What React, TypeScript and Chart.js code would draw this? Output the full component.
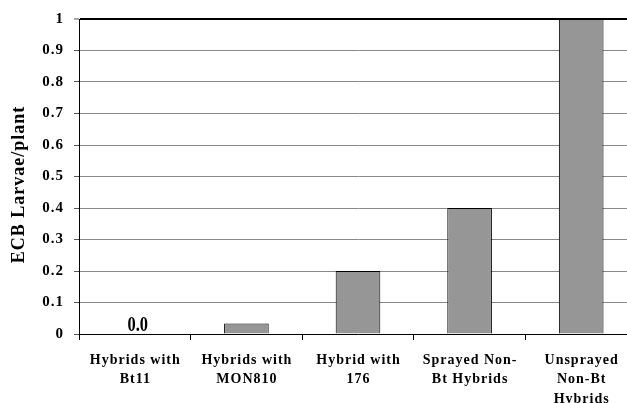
import { useEffect, useRef } from "react";
import { Chart, registerables } from "chart.js";

Chart.register(...registerables);

const FONT = "'Liberation Serif', 'Times New Roman', Times, serif";

const categories: string[][] = [
  ["Hybrids with", "Bt11"],
  ["Hybrids with", "MON810"],
  ["Hybrid with", "176"],
  ["Sprayed Non-", "Bt Hybrids"],
  ["Unsprayed", "Non-Bt", "Hybrids"],
];
const larvaePerPlant = [0, 0.033, 0.2, 0.4, 1.0];
const yTitle = "ECB Larvae/plant";
const yMin = 0;
const yMax = 1;
const yStep = 0.1;

const textPlugin = {
  id: "customText",
  beforeDraw(chart: any) {
    chart.ctx.letterSpacing = "1px";
  },
  afterDraw(chart: any) {
    const ctx = chart.ctx as CanvasRenderingContext2D;
    const xs = chart.scales.x;
    const ys = chart.scales.y;
    ctx.save();
    ctx.fillStyle = "#000";
    ctx.letterSpacing = "1px";
    ctx.font = `bold 14px ${FONT}`;
    ctx.textAlign = "center";
    ctx.textBaseline = "alphabetic";
    categories.forEach((lines, i) => {
      const cx = xs.getPixelForValue(i);
      lines.forEach((t, j) => {
        ctx.fillText(t, cx + 0.5, xs.top + 29.5 + j * 19.5);
      });
    });
    // y axis title
    ctx.save();
    ctx.translate(24, (ys.top + ys.bottom) / 2 + 8);
    ctx.rotate(-Math.PI / 2);
    ctx.font = `bold 18px ${FONT}`;
    ctx.textAlign = "center";
    ctx.textBaseline = "alphabetic";
    ctx.fillText(yTitle, 0, 0);
    ctx.restore();
    // value labels for zero bars
    const meta = chart.getDatasetMeta(0);
    meta.data.forEach((bar: any, i: number) => {
      const v = larvaePerPlant[i];
      if (v === 0) {
        ctx.save();
        ctx.letterSpacing = "0px";
        ctx.translate(bar.x + 3, ys.getPixelForValue(0) - 3.5);
        ctx.scale(0.82, 1);
        ctx.font = `bold 20px ${FONT}`;
        ctx.textAlign = "center";
        ctx.fillText(v.toFixed(1), 0, 0);
        ctx.restore();
      }
    });
    ctx.restore();
    ctx.letterSpacing = "0px";
  },
};

export default function App() {
  const ref = useRef<HTMLCanvasElement>(null);
  useEffect(() => {
    if (!ref.current) return;
    const chart = new Chart(ref.current, {
      type: "bar",
      data: {
        labels: categories.map((c) => c.join(" ")),
        datasets: [
          {
            data: larvaePerPlant,
            backgroundColor: "#969696",
            borderColor: "#000",
            borderWidth: 1,
            barPercentage: 0.4,
            categoryPercentage: 1,
          },
        ],
      },
      options: {
        responsive: false,
        maintainAspectRatio: false,
        devicePixelRatio: 1,
        animation: false,
        layout: { padding: { top: 19, left: 0, right: 0, bottom: 0 } },
        plugins: { legend: { display: false }, tooltip: { enabled: false } },
        scales: {
          x: {
            offset: true,
            ticks: { display: false },
            grid: {
              offset: true,
              drawOnChartArea: false,
              drawTicks: true,
              tickLength: 6,
              tickColor: "#000",
            },
            border: { display: true, color: "#000", width: 1 },
            afterFit: (s: any) => {
              s.height = 69;
            },
          },
          y: {
            min: yMin,
            max: yMax,
            ticks: {
              stepSize: yStep,
              padding: 10,
              color: "#000",
              font: { family: FONT, size: 15, weight: "bold" },
              callback: (v: any) => String(Math.round(Number(v) * 10) / 10),
            },
            grid: {
              color: (c: any) => (c.tick && c.tick.value >= yMax ? "#000" : "#888"),
              lineWidth: (c: any) => (c.tick && c.tick.value >= yMax ? 2 : 1),
              tickColor: "#555",
              tickWidth: 1,
              tickLength: 5,
            },
            border: { display: true, color: "#000", width: 1 },
            afterFit: (s: any) => {
              s.width = 79;
            },
          },
        },
      },
      plugins: [textPlugin],
    } as any);
    return () => chart.destroy();
  }, []);
  return (
    <div
      style={{
        position: "fixed",
        left: 0,
        top: 0,
        width: 627,
        height: 403,
        overflow: "hidden",
        background: "#fff",
      }}
    >
      <canvas ref={ref} width={637} height={403} style={{ display: "block" }} />
    </div>
  );
}
